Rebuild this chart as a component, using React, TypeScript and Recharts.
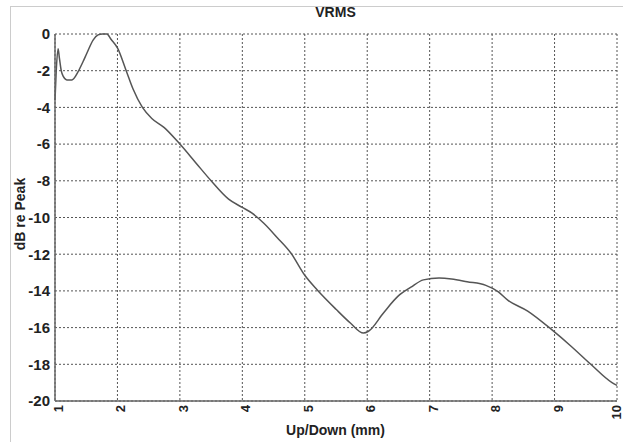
import { LineChart, Line, XAxis, YAxis, CartesianGrid } from "recharts";

// Up/Down position (mm) and VRMS level (dB re peak)
const positions = [
  1.0, 1.02, 1.05, 1.07, 1.1, 1.13, 1.19, 1.27, 1.37, 1.45, 1.51, 1.61, 1.69,
  1.76, 1.83, 1.9, 2.0, 2.14, 2.25, 2.4, 2.55, 2.75, 3.0, 3.25, 3.5, 3.78, 4.0,
  4.15, 4.34, 4.56, 4.78, 5.0, 5.2, 5.5, 5.73, 5.94, 6.02, 6.26, 6.49, 6.7, 6.9,
  7.15, 7.35, 7.6, 7.9, 8.1, 8.25, 8.57, 8.95, 9.26, 9.58, 9.92, 10.0,
];
const levels = [
  -3.6, -2.0, -0.8, -1.3, -2.0, -2.3, -2.5, -2.5, -2.05, -1.5, -1.05, -0.33,
  -0.05, 0, 0, -0.3, -0.76, -2.0, -3.0, -4.0, -4.6, -5.1, -6.0, -7.0, -8.0, -9.0,
  -9.45, -9.75, -10.3, -11.1, -11.95, -13.15, -13.95, -15.0, -15.75, -16.3,
  -16.2, -15.2, -14.3, -13.8, -13.4, -13.3, -13.35, -13.5, -13.7, -14.05,
  -14.5, -15.1, -16.1, -17.0, -18.0, -19.0, -19.15,
];
const xTicks = [1, 2, 3, 4, 5, 6, 7, 8, 9, 10];
const yTicks = [0, -2, -4, -6, -8, -10, -12, -14, -16, -18, -20];

const data = positions.map((x, i) => ({ x, y: levels[i] }));

const font = "'Liberation Sans', Arial, sans-serif";

function XTick({ x, y, payload }: any) {
  const ax = Math.min(x + 8, 621);
  const ay = y + 4;
  return (
    <text
      x={ax}
      y={ay}
      transform={`rotate(-90 ${ax} ${ay})`}
      textAnchor="end"
      fontFamily={font}
      fontSize={13}
      fontWeight="bold"
      fill="#222"
    >
      {payload.value}
    </text>
  );
}

export default function App() {
  return (
    <div
      style={{
        position: "absolute",
        left: 0,
        top: 0,
        width: 623,
        height: 442,
        background: "#fff",
        fontFamily: font,
        overflow: "hidden",
      }}
    >
      <div
        style={{
          position: "absolute",
          left: 10,
          top: 6,
          width: 640,
          height: 460,
          border: "1px solid #ccc",
        }}
      />
      <div
        style={{
          position: "absolute",
          left: 0,
          width: 671,
          top: 4,
          textAlign: "center",
          fontWeight: "bold",
          fontSize: 14,
          color: "#222",
        }}
      >
        VRMS
      </div>
      <div
        style={{
          position: "absolute",
          left: 0,
          width: 671,
          top: 422,
          textAlign: "center",
          fontWeight: "bold",
          fontSize: 14,
          color: "#222",
        }}
      >
        Up/Down (mm)
      </div>
      <div
        style={{
          position: "absolute",
          left: 20,
          top: 214,
          transform: "translate(-50%, -50%) rotate(-90deg)",
          whiteSpace: "nowrap",
          fontWeight: "bold",
          fontSize: 14,
          color: "#222",
        }}
      >
        dB re Peak
      </div>
      <LineChart
        width={623}
        height={442}
        data={data}
        margin={{ top: 34, right: 6, bottom: 0, left: 10 }}
        style={{ position: "absolute", left: 0, top: 0 }}
      >
        <CartesianGrid stroke="#555" strokeDasharray="2 2" strokeWidth={1} />
        <XAxis
          dataKey="x"
          type="number"
          domain={[1, 10]}
          ticks={xTicks}
          height={41}
          tickSize={0}
          tickMargin={0}
          tickLine={false}
          axisLine={{ stroke: "#666", strokeWidth: 1.5 }}
          tick={<XTick />}
          interval={0}
        />
        <XAxis
          xAxisId="top"
          dataKey="x"
          type="number"
          domain={[1, 10]}
          orientation="top"
          height={0}
          tick={false}
          tickLine={false}
          axisLine={{ stroke: "#666", strokeWidth: 1.5 }}
        />
        <YAxis
          type="number"
          domain={[-20, 0]}
          ticks={yTicks}
          width={45}
          tickSize={0}
          tickMargin={5}
          tickLine={false}
          axisLine={{ stroke: "#666", strokeWidth: 1.5 }}
          tick={{ fontFamily: font, fontSize: 15, fontWeight: "bold", fill: "#222" }}
          interval={0}
        />
        <YAxis
          yAxisId="right"
          type="number"
          domain={[-20, 0]}
          orientation="right"
          width={0}
          tick={false}
          tickLine={false}
          axisLine={{ stroke: "#666", strokeWidth: 1.5 }}
        />
        <Line
          type="monotone"
          dataKey="y"
          stroke="#555"
          strokeWidth={1.5}
          dot={false}
          isAnimationActive={false}
        />
      </LineChart>
    </div>
  );
}
